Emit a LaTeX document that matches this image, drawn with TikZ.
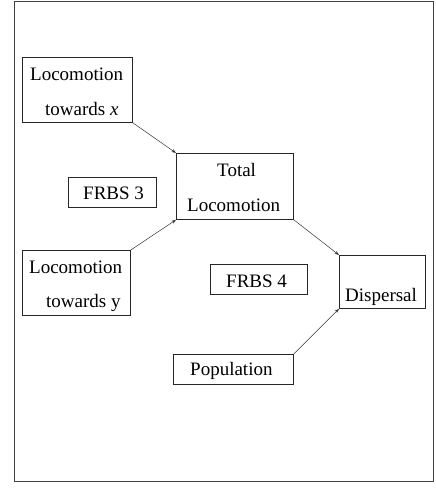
\documentclass[tikz,border=0pt]{standalone}
\usepackage{fontspec}
\setmainfont{Liberation Serif}
\usetikzlibrary{arrows.meta}
\begin{document}
\begin{tikzpicture}[x=1pt,y=-1pt,
  box/.style={draw=black!85,line width=0.8pt,inner sep=0pt,anchor=north west},
  lbl/.style={anchor=base west,inner sep=0pt,font=\fontsize{19}{23}\selectfont},
  arr/.style={draw=black!80,line width=0.5pt,-{Stealth[length=4.5pt,width=3.2pt]}}]
\useasboundingbox (0,0) rectangle (436,490);
\node[draw=black!75,line width=1.3pt,inner sep=0pt,anchor=north west,minimum width=419pt,minimum height=480pt] (frame) at (14,1) {};
% boxes
\node[box,minimum width=110pt,minimum height=65pt] (lx) at (22,57) {};
\node[box,minimum width=117pt,minimum height=66pt] (tl) at (176,153) {};
\node[box,minimum width=88pt,minimum height=30pt] (f3) at (68,177) {};
\node[box,minimum width=108pt,minimum height=65pt] (ly) at (22,250) {};
\node[box,minimum width=97pt,minimum height=30pt] (f4) at (210,264) {};
\node[box,minimum width=86pt,minimum height=53pt] (disp) at (339,255) {};
\node[box,minimum width=120pt,minimum height=30pt] (pop) at (173,354) {};
% labels
\node[lbl] (lxa) at (30,80) {Locomotion};
\node[lbl] (lxb) at (45,115) {towards \textit{x}};
\node[lbl] (tla) at (217,176) {Total};
\node[lbl] (tlb) at (187,211) {Locomotion};
\node[lbl] (f3t) at (83,199) {FRBS 3};
\node[lbl] (lya) at (29,273) {Locomotion};
\node[lbl] (lyb) at (46,307) {towards y};
\node[lbl] (f4t) at (226,287) {FRBS 4};
\node[lbl] (dispt) at (345,301) {Dispersal};
\node[lbl] (popt) at (190,375) {Population};
% connectors
\draw[arr] (lx.south east) -- (tl.north west);
\draw[arr] (ly.north east) -- (tl.south west);
\draw[arr] (tl.south east) -- (disp.north west);
\draw[arr] (pop.north east) -- (disp.south west);
\end{tikzpicture}
\end{document}
